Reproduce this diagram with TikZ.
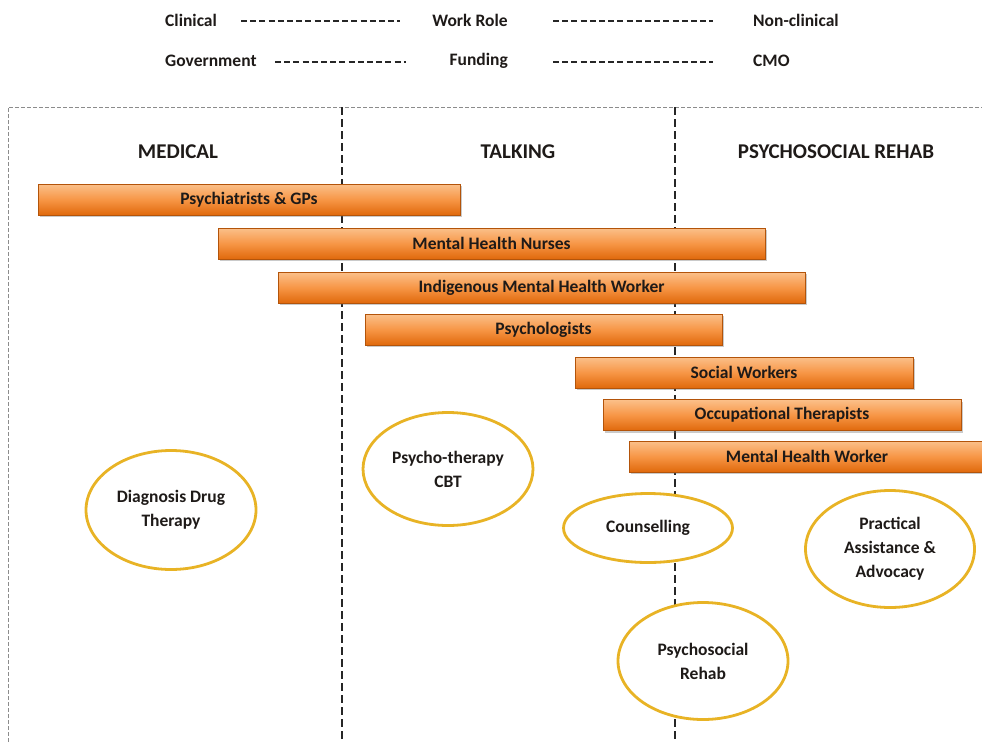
\documentclass[tikz,border=0pt]{standalone}
\usepackage{fontspec}
\setmainfont{Carlito}
\usetikzlibrary{shapes.geometric,shadows}
\definecolor{barmid}{HTML}{F79646}
\definecolor{bartop}{HTML}{FBC08A}
\definecolor{barbot}{HTML}{E0690C}
\definecolor{ringgold}{HTML}{E8B325}
\definecolor{txt}{HTML}{1E1A18}
\tikzset{
  bar/.style={rectangle, minimum height=31pt, inner sep=0pt,
    top color=bartop, bottom color=barbot, middle color=barmid,
    draw=barbot!80!black, line width=0.4pt,
    drop shadow={shadow xshift=1.5pt, shadow yshift=-2pt, opacity=0.35, fill=black!60},
    font=\fontsize{17.5}{20}\selectfont\bfseries, text=txt},
  ring/.style={ellipse, draw=ringgold, fill=white, line width=2.8pt, inner sep=0pt, align=center,
    font=\fontsize{17.5}{24}\selectfont\bfseries, text=txt},
  heading/.style={font=\fontsize{21}{24}\selectfont\bfseries, text=txt},
  legtext/.style={font=\fontsize{17.5}{20}\selectfont\bfseries, text=txt, inner sep=0pt},
  legline/.style={line width=1.2pt, dash pattern=on 6pt off 3.2pt, black!85},
  divider/.style={line width=1.2pt, dash pattern=on 8pt off 4pt, black!85},
  frame/.style={line width=0.8pt, dash pattern=on 4pt off 2pt, black!45},
}
\begin{document}
\begin{tikzpicture}[x=1pt,y=-1pt]
\useasboundingbox (0,0) rectangle (982,742);
% legend
\node[legtext, anchor=west] (clin) at (165,20) {Clinical};
\node[legtext] (role) at (470,20) {Work Role};
\node[legtext, anchor=west] (nonclin) at (753,20) {Non-clinical};
\node[legtext, anchor=west] (gov) at (165,61) {Government};
\node[legtext, anchor=east] (fund) at (508,61) {Funding};
\node[legtext, anchor=west] (cmo) at (753,61) {CMO};
\coordinate (l1a) at (241,21); \coordinate (l1b) at (400,21);
\coordinate (l2a) at (553,21); \coordinate (l2b) at (713,21);
\coordinate (l3a) at (275,62); \coordinate (l3b) at (406,62);
\coordinate (l4a) at (553,62); \coordinate (l4b) at (713,62);
\draw[legline] (l1a) -- (l1b);
\draw[legline] (l2a) -- (l2b);
\draw[legline] (l3a) -- (l3b);
\draw[legline] (l4a) -- (l4b);
% frame
\coordinate (fbl) at (8,742); \coordinate (ftl) at (8,107); \coordinate (ftr) at (982,107);
\draw[frame] (fbl) -- (ftl) -- (ftr);
% dividers
\coordinate (d1t) at (342,107); \coordinate (d1b) at (342,742);
\coordinate (d2t) at (675,107); \coordinate (d2b) at (675,742);
\draw[divider] (d1t) -- (d1b);
\draw[divider] (d2t) -- (d2b);
% headings
\node[heading] (hmed) at (178,152) {MEDICAL};
\node[heading] (htalk) at (518,152) {TALKING};
\node[heading] (hpsy) at (836,152) {PSYCHOSOCIAL REHAB};
% bars
\node[bar, minimum width=422pt] (b1) at (249,199.5) {Psychiatrists \& GPs};
\node[bar, minimum width=547pt] (b2) at (491.5,243.5) {Mental Health Nurses};
\node[bar, minimum width=527pt] (b3) at (541.5,287.5) {Indigenous Mental Health Worker};
\node[bar, minimum width=357pt] (b4) at (543.5,329.5) {Psychologists};
\node[bar, minimum width=338pt] (b5) at (744,372.5) {Social Workers};
\node[bar, minimum width=358pt] (b6) at (782,415) {Occupational Therapists};
\node[bar, minimum width=356pt] (b7) at (807,456.5) {Mental Health Worker};
% ellipses
\node[ring, minimum width=170pt, minimum height=119pt] (e1) at (171,510) {Diagnosis Drug\\Therapy};
\node[ring, minimum width=170pt, minimum height=113pt] (e2) at (448,469) {Psycho-therapy\\CBT};
\node[ring, minimum width=169pt, minimum height=69pt] (e3) at (648,528) {Counselling};
\node[ring, minimum width=169pt, minimum height=117pt] (e4) at (890,549) {Practical\\Assistance \&\\Advocacy};
\node[ring, minimum width=170pt, minimum height=117pt] (e5) at (703,661) {Psychosocial\\Rehab};
\end{tikzpicture}
\end{document}
